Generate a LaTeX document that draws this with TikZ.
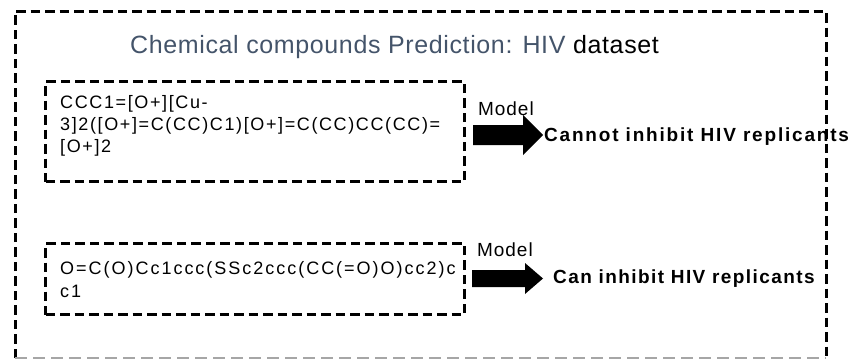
\documentclass[tikz,border=0pt]{standalone}
\usepackage{fontspec}
\setmainfont{Liberation Sans}
\definecolor{titleblue}{HTML}{44546A}
\tikzset{
  framedash/.style={line width=3pt, dash pattern=on 9.5pt off 5pt},
  smilesbox/.style={draw, line width=3pt, dash pattern=on 9.5pt off 5pt,
    rectangle, inner sep=0pt, anchor=north west},
  smiles/.style={font=\fontsize{18}{22}\selectfont\addfontfeature{LetterSpace=9},
    align=left, inner sep=0pt, anchor=base west},
  modellbl/.style={font=\fontsize{19}{19}\selectfont\addfontfeature{LetterSpace=5},
    inner sep=0pt, anchor=base west},
  result/.style={font=\fontsize{19}{19}\selectfont\bfseries\addfontfeature{LetterSpace=7.5},
    inner sep=0pt, anchor=base west},
  fatarrow/.style={fill=black, draw=none}
}
\begin{document}
\begin{tikzpicture}[x=1pt,y=-1pt]
\useasboundingbox (0,0) rectangle (851,359);

% outer frame
\draw[framedash] (15,358) -- (15,11) -- (826,11) -- (826,358);
\draw[gray!70, line width=1.5pt, dash pattern=on 12pt off 6pt] (15,358) -- (826,358);

% title
\node[anchor=base west, inner sep=0pt,
  font=\fontsize{25}{25}\selectfont\addfontfeature{LetterSpace=2.5}] (title) at (130,53.5)
  {\textcolor{titleblue}{Chemical compounds Prediction: HIV} dataset};

% first compound (the node's base is the baseline of its last line)
\node[smilesbox, minimum width=419pt, minimum height=100pt] (box1) at (44,80) {};
\node[smiles] (smiles1) at (60,152)
  {CCC1=[O+][Cu-\\{3]2([O+]=C(CC)C1)[O+]=C(CC)CC(CC)=}\\{[O+]2}};
\coordinate (a1) at (473,135);
\fill[fatarrow] (a1) ++(0,-10) -- ++(50,0) -- ++(0,-10) -- ++(20,20)
  -- ++(-20,20) -- ++(0,-10) -- ++(-50,0) -- cycle;
\node[modellbl] (model1) at (478,115) {Model};
\node[result, font=\fontsize{19}{19}\selectfont\bfseries\addfontfeature{LetterSpace=9.5}]
  (res1) at (544,141.5) {Cannot inhibit HIV replicants};

% second compound
\node[smilesbox, minimum width=419pt, minimum height=71pt] (box2) at (44,242) {};
\node[smiles, font=\fontsize{18}{23}\selectfont\addfontfeature{LetterSpace=11}]
  (smiles2) at (60,297)
  {O=C(O)Cc1ccc(SSc2ccc(CC(=O)O)cc2)c\\{c1}};
\coordinate (a2) at (472,278.5);
\fill[fatarrow] (a2) ++(0,-8.5) -- ++(53,0) -- ++(0,-7) -- ++(18,15.5)
  -- ++(-18,15.5) -- ++(0,-7) -- ++(-53,0) -- cycle;
\node[modellbl] (model2) at (477,256) {Model};
\node[result] (res2) at (553,283.5) {Can inhibit HIV replicants};
\end{tikzpicture}
\end{document}
